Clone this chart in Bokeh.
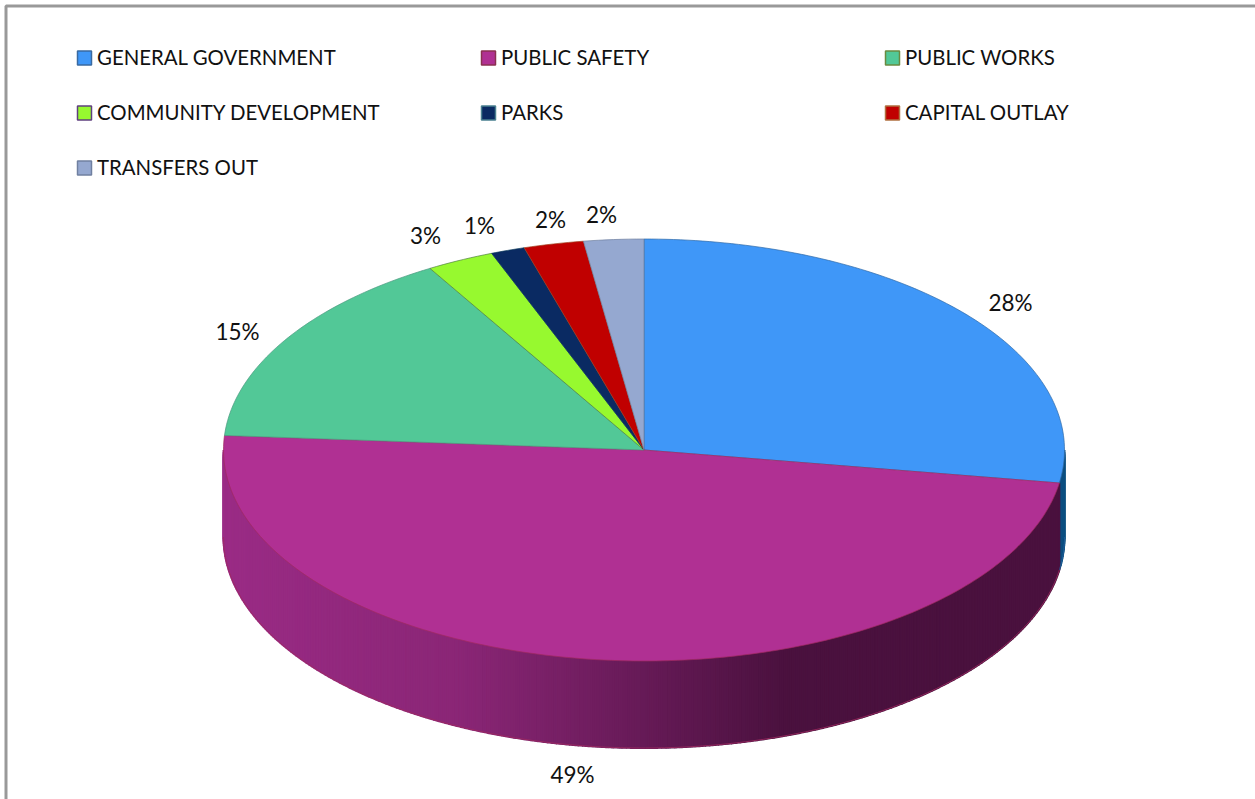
import numpy as np
from bokeh.plotting import figure
from bokeh.models import Range1d
from bokeh.core.properties import value
from bokeh.embed import file_html
from bokeh.resources import INLINE

categories = ["GENERAL GOVERNMENT", "PUBLIC SAFETY", "PUBLIC WORKS",
              "COMMUNITY DEVELOPMENT", "PARKS", "CAPITAL OUTLAY", "TRANSFERS OUT"]
shares = [27.5, 48.6, 15.4, 2.6, 1.3, 2.3, 2.3]
labels = ["28%", "49%", "15%", "3%", "1%", "2%", "2%"]
colors = ["#3f97f8", "#b03093", "#52c897", "#97f92f", "#0a2a62", "#c00000", "#95a8d0"]
edges = ["#2f6aa8", "#a02a60", "#4a9a80", "#4f7f3f", "#0a3a5a", "#a04020", "#6f7f9f"]
legend_edges = ["#3a6aa0", "#8a3050", "#6a8a40", "#5f3f7f", "#4a8090", "#b07040", "#7080a0"]

W, H = 1255, 799
CX, CY, RX, RY, DEPTH = 643.5, 449.5, 420.5, 211, 87

legend_x = [84, 488, 892, 84, 488, 892, 84]
legend_y = [57.5, 57.5, 57.5, 112.5, 112.5, 112.5, 167.5]
label_x = [1010, 572, 237, 425, 479, 550, 601]
label_y = [302, 774, 331, 235, 225, 219, 214]

p = figure(width=W, height=H, output_backend="svg", toolbar_location=None,
           x_range=Range1d(0, W), y_range=Range1d(H, 0), min_border=0,
           outline_line_color=None, background_fill_color="white",
           border_fill_color="white")
p.xaxis.visible = False
p.yaxis.visible = False
p.grid.visible = False

# picture frame
p.line([5.5, 5.5, W], [H, 5.5, 5.5], line_color="#999999", line_width=3)

cum = np.concatenate([[0], np.cumsum(shares)]) / np.sum(shares) * 2 * np.pi


def px(a):
    return CX + RX * np.sin(a)


def py(a):
    return CY - RY * np.cos(a)


def lerp(c1, c2, t):
    a = [int(c1[i:i + 2], 16) for i in (1, 3, 5)]
    b = [int(c2[i:i + 2], 16) for i in (1, 3, 5)]
    return "#%02x%02x%02x" % tuple(round(u + (v - u) * t) for u, v in zip(a, b))


# rim: only the part of the rim that faces the viewer (90 to 270 degrees)
xs, ys, fc = [], [], []
for i in range(7):
    a0, a1 = max(cum[i], np.pi / 2), min(cum[i + 1], 3 * np.pi / 2)
    if a1 <= a0:
        continue
    n = max(2, int((a1 - a0) / np.radians(0.6)))
    t = np.linspace(a0, a1, n + 1)
    for u, v in zip(t[:-1], t[1:]):
        s = np.linspace(u, v, 4)
        xs.append(list(px(s)) + list(px(s[::-1])))
        ys.append(list(py(s)) + list(py(s[::-1]) + DEPTH))
        f = 1 - (px((u + v) / 2) - (CX - RX)) / (2 * RX)  # 1 at left, 0 at right
        if i == 0:
            fc.append("#0d4f80")
        elif f > 0.72:
            fc.append(lerp("#8a2676", "#9a2b85", (f - 0.72) / 0.28))
        elif f > 0.33:
            fc.append(lerp("#4a113e", "#8a2676", (f - 0.33) / 0.39))
        else:
            fc.append("#4a113e")
p.patches(xs, ys, fill_color=fc, line_color=fc, line_width=2)

# rim's lower edge, in the slice's edge colour
for i in range(2):
    a0, a1 = max(cum[i], np.pi / 2), min(cum[i + 1], 3 * np.pi / 2)
    s = np.linspace(a0, a1, 200)
    p.line(px(s), py(s) + DEPTH, line_color=edges[i], line_width=0.8)

# top face
tx, ty = [], []
for i in range(7):
    n = max(8, int((cum[i + 1] - cum[i]) / np.radians(1.0)))
    s = np.linspace(cum[i], cum[i + 1], n + 1)
    tx.append([CX] + list(px(s)))
    ty.append([CY] + list(py(s)))
p.patches(tx, ty, fill_color=colors, line_color=edges, line_width=0.7)

# legend
p.scatter(legend_x, legend_y, marker="square", size=14, fill_color=colors,
          line_color=legend_edges, line_width=1.5)
p.text([x + 12.5 for x in legend_x], [y - 1.5 for y in legend_y], text=categories,
       text_align="left", text_baseline="middle", text_font=value("Lato"),
       text_font_size="20.4px", text_color="#111111")

# slice labels
p.text(label_x, label_y, text=labels, text_align="center", text_baseline="middle",
       text_font=value("Lato"), text_font_size="22.5px", text_color="#111111")

open("out.html", "w").write(file_html(p, INLINE))
